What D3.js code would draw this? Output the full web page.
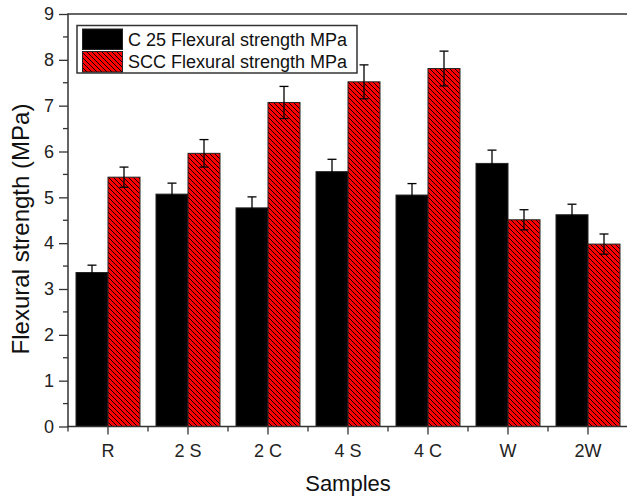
<!DOCTYPE html>
<html><head><meta charset="utf-8">
<script src="https://cdn.jsdelivr.net/npm/d3@7"></script>
<style>body{margin:0;background:#fff}svg{display:block}text{font-family:Arial,"Liberation Sans",sans-serif}</style>
</head><body>
<script>
const categories = ["R","2 S","2 C","4 S","4 C","W","2W"];
const seriesNames = ["C 25 Flexural strength MPa","SCC Flexural strength MPa"];
const c25 = [3.36,5.07,4.77,5.56,5.05,5.74,4.62];
const c25Err = [0.16,0.24,0.24,0.27,0.25,0.29,0.23];
const scc = [5.44,5.96,7.07,7.52,7.81,4.51,3.98];
const sccErr = [0.22,0.30,0.35,0.37,0.38,0.22,0.22];
const yTicks = [0,1,2,3,4,5,6,7,8,9];

const W=627,H=498;
const m={l:68,t:14,r:628,b:426.5};
const svg=d3.select("body").append("svg").attr("width",W).attr("height",H);
const defs=svg.append("defs");
const ps=5;
const pat=defs.append("pattern").attr("id","hatch").attr("patternUnits","userSpaceOnUse")
  .attr("width",ps).attr("height",ps);
pat.append("rect").attr("width",ps).attr("height",ps).attr("fill","#ff0000");
pat.append("path").attr("d",`M-1,-1L${ps+1},${ps+1}M-1,${ps-1}L1,${ps+1}M${ps-1},-1L${ps+1},1`).attr("stroke","#000").attr("stroke-width",0.95);

const x=d3.scaleBand().domain(categories).range([m.l,m.r]).paddingInner(0.2).paddingOuter(0.1);
const xs=d3.scaleBand().domain([0,1]).range([0,x.bandwidth()]);
const y=d3.scaleLinear().domain([0,9]).range([m.b,m.t]);

const data=categories.map((c,i)=>({c,vals:[{s:0,v:c25[i],e:c25Err[i]},{s:1,v:scc[i],e:sccErr[i]}]}));
const g=svg.append("g");
const grp=g.selectAll("g.cat").data(data).join("g").attr("transform",d=>`translate(${x(d.c)},0)`);
grp.selectAll("rect").data(d=>d.vals).join("rect")
  .attr("x",d=>xs(d.s)).attr("width",xs.bandwidth())
  .attr("y",d=>y(d.v)).attr("height",d=>y(0)-y(d.v))
  .attr("fill",d=>d.s===0?"#000":"url(#hatch)")
  .attr("stroke","#222").attr("stroke-width",1);
// error bars
const eb=grp.selectAll("g.eb").data(d=>d.vals).join("g").attr("class","eb")
  .attr("transform",d=>`translate(${xs(d.s)+xs.bandwidth()/2},0)`);
eb.append("line").attr("y1",d=>y(d.v+d.e)).attr("y2",d=>y(d.v-d.e)).attr("stroke","#000").attr("stroke-width",1.3);
eb.append("line").attr("x1",-4.5).attr("x2",4.5).attr("y1",d=>y(d.v+d.e)).attr("y2",d=>y(d.v+d.e)).attr("stroke","#000").attr("stroke-width",1.3);
eb.append("line").attr("x1",-4.5).attr("x2",4.5).attr("y1",d=>y(d.v-d.e)).attr("y2",d=>y(d.v-d.e)).attr("stroke","#000").attr("stroke-width",1.3);

// Y axis
const ax=svg.append("g").attr("transform",`translate(${m.l},0)`)
  .call(d3.axisLeft(y).tickValues(yTicks).tickSize(9).tickPadding(5).tickFormat(d3.format("d")));
ax.select(".domain").remove();
ax.selectAll("line").attr("stroke","#333").attr("stroke-width",1.3);
ax.selectAll("text").attr("font-size",18).attr("fill","#222");
const minorY=d3.range(0.5,9,1);
svg.append("g").selectAll("line").data(minorY).join("line")
  .attr("x1",m.l-5).attr("x2",m.l).attr("y1",d=>y(d)).attr("y2",d=>y(d)).attr("stroke","#333").attr("stroke-width",1.3);

// X axis
const xa=svg.append("g").attr("transform",`translate(0,${m.b})`)
  .call(d3.axisBottom(x).tickSize(8).tickPadding(10));
xa.select(".domain").remove();
xa.selectAll("line").attr("stroke","#333").attr("stroke-width",1.3);
xa.selectAll("text").attr("font-size",18).attr("fill","#222");
const bounds=d3.range(0,categories.length+1).map(i=>m.l+i*x.step());
svg.append("g").selectAll("line").data(bounds).join("line")
  .attr("x1",d=>d).attr("x2",d=>d).attr("y1",m.b).attr("y2",m.b+5).attr("stroke","#333").attr("stroke-width",1.3);

// frame
svg.append("rect").attr("x",m.l).attr("y",m.t).attr("width",m.r-m.l).attr("height",m.b-m.t)
  .attr("fill","none").attr("stroke","#333").attr("stroke-width",1.5);

// titles
svg.append("text").attr("x",348).attr("y",491).attr("text-anchor","middle").attr("font-size",22).attr("fill","#111").text("Samples");
svg.append("text").attr("transform","translate(29,229) rotate(-90)").attr("text-anchor","middle").attr("font-size",24).attr("fill","#111").text("Flexural strength (MPa)");

// legend
const lg=svg.append("g");
lg.append("rect").attr("x",77).attr("y",25.5).attr("width",280).attr("height",47.5).attr("fill","#fff").attr("stroke","#333").attr("stroke-width",1.5);
seriesNames.forEach((n,i)=>{
  const yy=29+i*22.5;
  lg.append("rect").attr("x",82.5).attr("y",yy).attr("width",40).attr("height",20.5)
    .attr("fill",i===0?"#000":"url(#hatch)").attr("stroke","#222").attr("stroke-width",1);
  lg.append("text").attr("x",128).attr("y",yy+16.5).attr("font-size",18).attr("fill","#111").text(n);
});
</script>
</body></html>
